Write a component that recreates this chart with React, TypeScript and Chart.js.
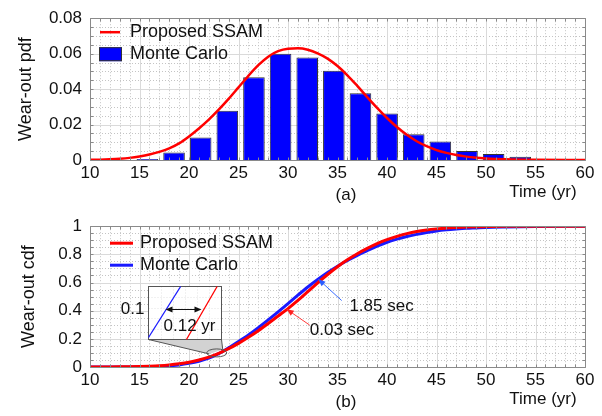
import React, { useEffect, useRef } from 'react';
import { Chart, registerables } from 'chart.js';
Chart.register(...registerables);

const FONT = '"Liberation Sans", Arial, Helvetica, sans-serif';

const timeTicks = [10, 15, 20, 25, 30, 35, 40, 45, 50, 55, 60];
const pdfTicks = ['0', '0.02', '0.04', '0.06', '0.08'];
const cdfTicks = ['0', '0.2', '0.4', '0.6', '0.8', '1'];

// Monte Carlo histogram (top)
const mcBinCenters = [15.8, 18.49, 21.18, 23.87, 26.56, 29.25, 31.94, 34.63, 37.32, 40.01, 42.7, 45.39, 48.08, 50.77, 53.46];
const mcPdf = [0.0005, 0.0042, 0.0127, 0.0278, 0.0467, 0.06, 0.0578, 0.0504, 0.0376, 0.0263, 0.0145, 0.0105, 0.0051, 0.0034, 0.0018];

// Proposed SSAM pdf (top)
const pdfYears = [10, 11, 12, 13, 14, 15, 16, 17, 18, 19, 20, 21, 22, 23, 24, 25, 26, 27, 28, 29, 30, 31, 32, 33, 34, 35, 36, 37, 38, 39, 40, 41, 42, 43, 44, 45, 46, 47, 48, 49, 50, 52, 55, 60];
const ssamPdf = [0.0001, 0.0002, 0.0004, 0.0007, 0.0012, 0.002, 0.0031, 0.0046, 0.0066, 0.0094, 0.0133, 0.0178, 0.0228, 0.0284, 0.0345, 0.041, 0.0475, 0.0535, 0.0583, 0.0614, 0.0628, 0.063, 0.0622, 0.0602, 0.0572, 0.053, 0.0478, 0.0418, 0.0355, 0.0294, 0.0237, 0.0186, 0.0142, 0.0106, 0.0078, 0.0056, 0.004, 0.0028, 0.0019, 0.0013, 0.0009, 0.0004, 0.0001, 0];

// cdf (bottom)
const cdfYears = [10, 11, 12, 13, 14, 15, 16, 17, 18, 19, 20, 21, 22, 23, 24, 25, 26, 27, 28, 29, 30, 31, 32, 33, 34, 35, 36, 37, 38, 39, 40, 41, 42, 43, 44, 45, 46, 47, 48, 49, 50, 52, 55, 60];
const ssamCdf = [0, 0.0002, 0.0005, 0.001, 0.002, 0.0035, 0.006, 0.0095, 0.015, 0.023, 0.034, 0.05, 0.07, 0.097, 0.13, 0.168, 0.211, 0.258, 0.309, 0.362, 0.415, 0.473, 0.535, 0.598, 0.657, 0.712, 0.761, 0.804, 0.842, 0.876, 0.905, 0.928, 0.947, 0.962, 0.973, 0.981, 0.987, 0.991, 0.994, 0.996, 0.997, 0.999, 1, 1];
const mcCdf = [0, 0, 0.0001, 0.0002, 0.0005, 0.001, 0.002, 0.004, 0.008, 0.015, 0.026, 0.041, 0.063, 0.095, 0.136, 0.181, 0.228, 0.28, 0.335, 0.392, 0.45, 0.51, 0.568, 0.621, 0.671, 0.716, 0.756, 0.793, 0.826, 0.858, 0.886, 0.908, 0.927, 0.942, 0.955, 0.966, 0.974, 0.98, 0.985, 0.988, 0.991, 0.994, 0.997, 1];

const RED = '#ff0000';
const BLUE = '#0000ff';
const BLUE_LINE = '#1a1aff';

function labelFor(list: string[], v: number) {
  const m = list.find((s) => Math.abs(Number(s) - v) < 1e-9);
  return m === undefined ? '' : m;
}

function gridFramePlugin(xMinor: number, xMajor: number, yMinor: number, yMajor: number) {
  return {
    id: 'gridFrame',
    beforeDatasetsDraw(chart: any) {
      const { ctx, chartArea: a, scales } = chart;
      const x = scales.x, y = scales.y;
      ctx.save();
      ctx.lineWidth = 1;
      ctx.strokeStyle = '#c4c4c4';
      ctx.setLineDash([1, 2]);
      ctx.beginPath();
      for (let v = x.min; v <= x.max + 1e-9; v += xMinor) {
        if (Math.abs(v / xMajor - Math.round(v / xMajor)) < 1e-6) continue;
        const p = Math.round(x.getPixelForValue(v)) + 0.5;
        ctx.moveTo(p, a.top); ctx.lineTo(p, a.bottom);
      }
      for (let v = y.min; v <= y.max + 1e-9; v += yMinor) {
        if (Math.abs(v / yMajor - Math.round(v / yMajor)) < 1e-6) continue;
        const p = Math.round(y.getPixelForValue(v)) + 0.5;
        ctx.moveTo(a.left, p); ctx.lineTo(a.right, p);
      }
      ctx.stroke();
      ctx.setLineDash([]);
      ctx.strokeStyle = '#dadada';
      ctx.beginPath();
      for (let v = x.min; v <= x.max + 1e-9; v += xMajor) {
        const p = Math.round(x.getPixelForValue(v)) + 0.5;
        ctx.moveTo(p, a.top); ctx.lineTo(p, a.bottom);
      }
      for (let v = y.min; v <= y.max + 1e-9; v += yMajor) {
        const p = Math.round(y.getPixelForValue(v)) + 0.5;
        ctx.moveTo(a.left, p); ctx.lineTo(a.right, p);
      }
      ctx.stroke();
      ctx.restore();
    },
    afterDatasetsDraw(chart: any) {
      const { ctx, chartArea: a, scales } = chart;
      const x = scales.x, y = scales.y;
      ctx.save();
      ctx.strokeStyle = '#8a8a8a';
      ctx.lineWidth = 1;
      ctx.beginPath();
      const L = Math.round(a.left) + 0.5, R = Math.round(a.right) + 0.5;
      const T = Math.round(a.top) + 0.5, B = Math.round(a.bottom) + 0.5;
      ctx.rect(L, T, R - L, B - T);
      for (let v = x.min; v <= x.max + 1e-9; v += xMinor) {
        const p = Math.round(x.getPixelForValue(v)) + 0.5;
        ctx.moveTo(p, T); ctx.lineTo(p, T + 3);
        ctx.moveTo(p, B); ctx.lineTo(p, B - 3);
      }
      for (let v = y.min; v <= y.max + 1e-9; v += yMinor) {
        const p = Math.round(y.getPixelForValue(v)) + 0.5;
        ctx.moveTo(L, p); ctx.lineTo(L + 3, p);
        ctx.moveTo(R, p); ctx.lineTo(R - 3, p);
      }
      ctx.stroke();
      ctx.restore();
    },
  };
}

function arrowHead(ctx: CanvasRenderingContext2D, x0: number, y0: number, x1: number, y1: number, len: number, wid: number) {
  const ang = Math.atan2(y1 - y0, x1 - x0);
  ctx.beginPath();
  ctx.moveTo(x1, y1);
  ctx.lineTo(x1 - len * Math.cos(ang) + wid * Math.sin(ang), y1 - len * Math.sin(ang) - wid * Math.cos(ang));
  ctx.lineTo(x1 - len * Math.cos(ang) - wid * Math.sin(ang), y1 - len * Math.sin(ang) + wid * Math.cos(ang));
  ctx.closePath();
  ctx.fill();
}

function bottomTexts(tag: string) {
  return {
    id: 'bottomTexts',
    afterDraw(chart: any) {
      const { ctx, chartArea: a } = chart;
      ctx.save();
      ctx.fillStyle = '#111';
      ctx.font = `17px ${FONT}`;
      ctx.textAlign = 'center';
      ctx.textBaseline = 'alphabetic';
      ctx.fillText(tag, a.left + 256, a.bottom + 40);
      ctx.fillText('Time (yr)', a.left + 453, a.bottom + 37);
      ctx.restore();
    },
  };
}

const topLegend = {
  id: 'topLegend',
  afterDraw(chart: any) {
    const { ctx, chartArea: a } = chart;
    ctx.save();
    const lx = a.left + 10;
    ctx.strokeStyle = RED;
    ctx.lineWidth = 2.5;
    ctx.beginPath();
    ctx.moveTo(lx, a.top + 14); ctx.lineTo(lx + 20, a.top + 14);
    ctx.stroke();
    ctx.fillStyle = BLUE;
    ctx.fillRect(lx - 1, a.top + 29, 23, 14);
    ctx.strokeStyle = '#333';
    ctx.lineWidth = 1;
    ctx.strokeRect(lx - 0.5, a.top + 29.5, 22, 13);
    ctx.fillStyle = '#111';
    ctx.font = `18px ${FONT}`;
    ctx.textBaseline = 'middle';
    ctx.textAlign = 'left';
    ctx.fillText('Proposed SSAM', lx + 30, a.top + 14);
    ctx.fillText('Monte Carlo', lx + 30, a.top + 36);
    ctx.restore();
  },
};

const cdfAnnotations = {
  id: 'cdfAnnotations',
  afterDraw(chart: any) {
    const { ctx, chartArea: a, scales } = chart;
    const X = (v: number) => scales.x.getPixelForValue(v);
    const Y = (v: number) => scales.y.getPixelForValue(v);
    ctx.save();
    const lx = a.left + 20;
    ctx.lineWidth = 3;
    ctx.strokeStyle = RED;
    ctx.beginPath(); ctx.moveTo(lx, a.top + 17); ctx.lineTo(lx + 23, a.top + 17); ctx.stroke();
    ctx.strokeStyle = BLUE_LINE;
    ctx.beginPath(); ctx.moveTo(lx, a.top + 39); ctx.lineTo(lx + 23, a.top + 39); ctx.stroke();
    ctx.fillStyle = '#111';
    ctx.font = `18px ${FONT}`;
    ctx.textBaseline = 'middle';
    ctx.textAlign = 'left';
    ctx.fillText('Proposed SSAM', lx + 30, a.top + 17);
    ctx.fillText('Monte Carlo', lx + 30, a.top + 39);

    const ex = X(22.8), ey = Y(0.1);
    const bl = Math.round(X(15.9)) + 0.5, br = Math.round(X(23.25)) + 0.5;
    const bt = Math.round(Y(0.578)) + 0.5, bb = Math.round(Y(0.2)) + 0.5;
    ctx.lineWidth = 1;
    ctx.fillStyle = '#d2d2d2';
    ctx.strokeStyle = '#555';
    ctx.beginPath();
    ctx.moveTo(bl, bb);
    ctx.lineTo(br, bb);
    ctx.lineTo(ex + 6, ey - 3.5);
    ctx.lineTo(ex - 7.5, ey + 1);
    ctx.closePath();
    ctx.fill();
    ctx.beginPath();
    ctx.moveTo(bl, bb); ctx.lineTo(ex - 7.5, ey + 1);
    ctx.moveTo(br, bb); ctx.lineTo(ex + 6, ey - 3.5);
    ctx.stroke();
    ctx.beginPath();
    ctx.ellipse(ex, ey, 10, 4, 0, 0, Math.PI * 2);
    ctx.stroke();

    ctx.fillStyle = '#ffffff';
    ctx.fillRect(bl, bt, br - bl, bb - bt);
    ctx.strokeStyle = '#e2e2e2';
    ctx.setLineDash([1, 2]);
    ctx.beginPath();
    for (let i = 1; i < 6; i++) {
      const px = Math.round(bl + (br - bl) * i / 6) + 0.5;
      ctx.moveTo(px, bt); ctx.lineTo(px, bb);
    }
    for (let i = 1; i < 5; i++) {
      const py = Math.round(bt + (bb - bt) * i / 5) + 0.5;
      ctx.moveTo(bl, py); ctx.lineTo(br, py);
    }
    ctx.stroke();
    ctx.setLineDash([]);
    ctx.strokeStyle = '#555';
    ctx.strokeRect(bl, bt, br - bl, bb - bt);
    const w = br - bl;
    ctx.lineWidth = 1.3;
    ctx.strokeStyle = BLUE_LINE;
    ctx.beginPath(); ctx.moveTo(bl, bb - 2); ctx.lineTo(bl + w * 0.44, bt); ctx.stroke();
    ctx.strokeStyle = RED;
    ctx.beginPath(); ctx.moveTo(bl + w * 0.52, bb); ctx.lineTo(bl + w * 0.94, bt); ctx.stroke();
    const ay = bt + 23;
    const ax0 = bl + 17, ax1 = bl + 53;
    ctx.strokeStyle = '#111';
    ctx.fillStyle = '#111';
    ctx.lineWidth = 1;
    ctx.beginPath(); ctx.moveTo(ax0 + 3, ay); ctx.lineTo(ax1 - 3, ay); ctx.stroke();
    arrowHead(ctx, ax1, ay, ax0, ay, 7, 3);
    arrowHead(ctx, ax0, ay, ax1, ay, 7, 3);
    ctx.font = `17px ${FONT}`;
    ctx.textAlign = 'right';
    ctx.fillText('0.1', bl - 4, ay);
    ctx.textAlign = 'center';
    ctx.fillText('0.12 yr', bl + 41, ay + 17);

    ctx.lineWidth = 1;
    ctx.strokeStyle = '#ff3b3b';
    ctx.fillStyle = '#ff2020';
    let t0x = X(32.18), t0y = Y(0.298), h0x = X(29.87), h0y = Y(0.41);
    ctx.beginPath(); ctx.moveTo(t0x, t0y); ctx.lineTo(h0x, h0y); ctx.stroke();
    arrowHead(ctx, t0x, t0y, h0x, h0y, 7, 3);
    ctx.strokeStyle = '#3a6cff';
    ctx.fillStyle = '#2a5cff';
    t0x = X(35.42); t0y = Y(0.472); h0x = X(33.07); h0y = Y(0.623);
    ctx.beginPath(); ctx.moveTo(t0x, t0y); ctx.lineTo(h0x, h0y); ctx.stroke();
    arrowHead(ctx, t0x, t0y, h0x, h0y, 7, 3);
    ctx.fillStyle = '#111';
    ctx.textAlign = 'left';
    ctx.font = `17px ${FONT}`;
    ctx.fillText('1.85 sec', X(36.2), Y(0.43));
    ctx.fillText('0.03 sec', X(32.2), Y(0.26));
    ctx.restore();
  },
};

function baseScales(yTicks: string[], yStep: number, yMax: number, yTitle: string, titlePad: number, xAxisHeight: number) {
  return {
    x: {
      type: 'linear' as const,
      min: 10,
      max: 60,
      offset: false,
      grid: { display: false, drawTicks: false },
      border: { display: false },
      ticks: {
        stepSize: 5,
        autoSkip: false,
        maxRotation: 0,
        padding: 3,
        color: '#111',
        font: { family: FONT, size: 17 },
        callback: (v: number) => (timeTicks.includes(v) ? String(v) : ''),
      },
      afterFit: (s: any) => { s.height = xAxisHeight; },
    },
    y: {
      type: 'linear' as const,
      min: 0,
      max: yMax,
      grid: { display: false, drawTicks: false },
      border: { display: false },
      ticks: {
        stepSize: yStep,
        padding: 8,
        color: '#111',
        font: { family: FONT, size: 17 },
        callback: (v: number) => labelFor(yTicks, v),
      },
      title: {
        display: true,
        text: yTitle,
        color: '#111',
        font: { family: FONT, size: 18 },
        padding: { top: titlePad, bottom: 0 },
      },
      afterFit: (s: any) => { s.width = 90; },
    },
  };
}

export default function App() {
  const topRef = useRef<HTMLCanvasElement>(null);
  const botRef = useRef<HTMLCanvasElement>(null);

  useEffect(() => {
    const top = new Chart(topRef.current!, {
      type: 'bar',
      data: {
        datasets: [
          {
            type: 'line',
            label: 'Proposed SSAM',
            data: pdfYears.map((x, i) => ({ x, y: ssamPdf[i] })),
            borderColor: RED,
            borderWidth: 2.5,
            pointRadius: 0,
            cubicInterpolationMode: 'monotone',
            order: 0,
          } as any,
          {
            type: 'bar',
            label: 'Monte Carlo',
            data: mcBinCenters.map((x, i) => ({ x, y: mcPdf[i] })),
            backgroundColor: BLUE,
            borderColor: '#333',
            borderWidth: 1,
            barPercentage: 0.9,
            categoryPercentage: 0.9,
            order: 1,
          } as any,
        ],
      },
      options: {
        responsive: false,
        animation: false,
        layout: { padding: { top: 13, right: 17, left: 0, bottom: 0 } },
        plugins: { legend: { display: false }, tooltip: { enabled: false } },
        scales: baseScales(pdfTicks, 0.02, 0.08, 'Wear-out pdf', 15, 48) as any,
      },
      plugins: [gridFramePlugin(1, 5, 0.005, 0.02), topLegend, bottomTexts('(a)')],
    });

    const bot = new Chart(botRef.current!, {
      type: 'line',
      data: {
        datasets: [
          {
            label: 'Monte Carlo',
            data: cdfYears.map((x, i) => ({ x, y: mcCdf[i] })),
            borderColor: BLUE_LINE,
            borderWidth: 3,
            pointRadius: 0,
            cubicInterpolationMode: 'monotone',
            order: 1,
          },
          {
            label: 'Proposed SSAM',
            data: cdfYears.map((x, i) => ({ x, y: ssamCdf[i] })),
            borderColor: RED,
            borderWidth: 3,
            pointRadius: 0,
            cubicInterpolationMode: 'monotone',
            order: 0,
          },
        ] as any,
      },
      options: {
        responsive: false,
        animation: false,
        layout: { padding: { top: 10, right: 17, left: 0, bottom: 0 } },
        plugins: { legend: { display: false }, tooltip: { enabled: false } },
        scales: baseScales(cdfTicks, 0.2, 1, 'Wear-out cdf', 18, 49) as any,
      },
      plugins: [gridFramePlugin(1, 5, 0.05, 0.2), cdfAnnotations, bottomTexts('(b)')],
    });

    return () => {
      top.destroy();
      bot.destroy();
    };
  }, []);

  return (
    <div style={{ position: 'absolute', left: 0, top: 0, width: 602, height: 416, background: '#fff' }}>
      <canvas ref={topRef} width={602} height={208} style={{ position: 'absolute', left: 0, top: 0, width: 602, height: 208 }} />
      <canvas ref={botRef} width={602} height={208} style={{ position: 'absolute', left: 0, top: 208, width: 602, height: 208 }} />
    </div>
  );
}
